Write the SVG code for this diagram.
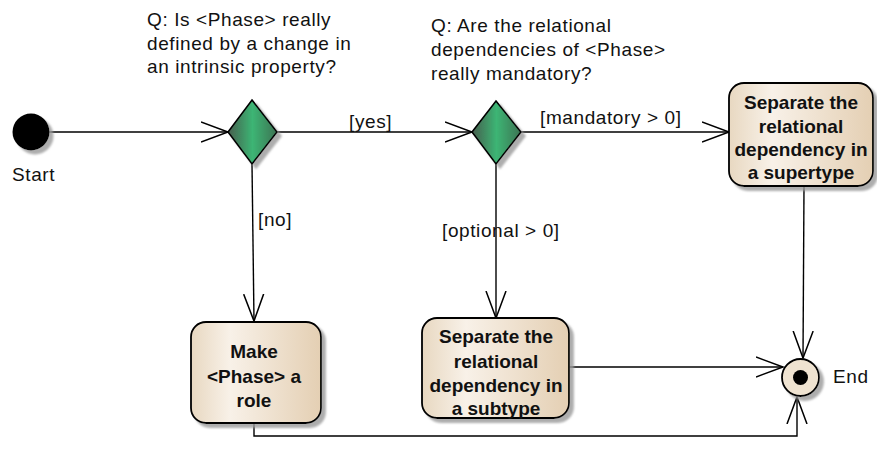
<svg xmlns="http://www.w3.org/2000/svg" width="877" height="465" viewBox="0 0 877 465">
  <style>
    .lbl { font-family: "Liberation Sans", Arial, sans-serif; font-size: 19px; letter-spacing: 0.6px; fill: #111; }
    .act { font-family: "Liberation Sans", Arial, sans-serif; font-size: 19px; font-weight: bold; fill: #111; text-anchor: middle; }
    .edge { fill: none; stroke: #000; stroke-width: 1.4; }
    .box { fill: url(#actFill); stroke: #000; stroke-width: 1.8; filter: url(#shadow); }
    .dec { fill: url(#decFill); stroke: #000; stroke-width: 1.6; filter: url(#shadow); }
  </style>
  <defs>
    <linearGradient id="actFill" x1="0" y1="0" x2="1" y2="0">
      <stop offset="0" stop-color="#e8d8c1"/>
      <stop offset="0.3" stop-color="#f8f1e8"/>
      <stop offset="1" stop-color="#e4cfb3"/>
    </linearGradient>
    <linearGradient id="decFill" x1="0" y1="0" x2="1" y2="0">
      <stop offset="0" stop-color="#475e4e"/>
      <stop offset="0.5" stop-color="#3cb574"/>
      <stop offset="1" stop-color="#3d7353"/>
    </linearGradient>
    <filter id="shadow" x="-20%" y="-20%" width="150%" height="150%">
      <feDropShadow dx="4" dy="4" stdDeviation="1.2" flood-color="#999" flood-opacity="0.8"/>
    </filter>
    <marker id="open" markerUnits="userSpaceOnUse" markerWidth="30" markerHeight="24" refX="27" refY="11" orient="auto">
      <path d="M0,1 L27,11 L0,21" fill="none" stroke="#000" stroke-width="1.5"/>
    </marker>
  </defs>

  <!-- question notes -->
  <g id="question1">
    <text class="lbl" x="147" y="26">Q: Is &lt;Phase&gt; really</text>
    <text class="lbl" x="147" y="50">defined by a change in</text>
    <text class="lbl" x="147" y="73">an intrinsic property?</text>
  </g>
  <g id="question2">
    <text class="lbl" x="431" y="32">Q: Are the relational</text>
    <text class="lbl" x="431" y="56">dependencies of &lt;Phase&gt;</text>
    <text class="lbl" x="431" y="80">really mandatory?</text>
  </g>

  <!-- connectors -->
  <g id="connectors">
    <path class="edge" d="M49,132 L228,132" marker-end="url(#open)"/>
    <path class="edge" d="M277,132 L472,132" marker-end="url(#open)"/>
    <path class="edge" d="M521,132 L729,132" marker-end="url(#open)"/>
    <path class="edge" d="M252,164 L254,321" marker-end="url(#open)"/>
    <path class="edge" d="M496,164 L496,318" marker-end="url(#open)"/>
    <path class="edge" d="M804,186 L803,358" marker-end="url(#open)"/>
    <path class="edge" d="M569,367 L783,367" marker-end="url(#open)"/>
    <path class="edge" d="M254,423 L254,436 L797,436 L797,397" marker-end="url(#open)"/>
    <text class="lbl" x="349" y="128">[yes]</text>
    <text class="lbl" x="540" y="124">[mandatory &gt; 0]</text>
    <text class="lbl" x="258" y="226">[no]</text>
    <text class="lbl" x="442" y="237">[optional &gt; 0]</text>
  </g>

  <g id="start">
    <circle cx="31" cy="132" r="18.5" fill="#000" filter="url(#shadow)"/>
    <text class="lbl" x="12" y="181">Start</text>
  </g>

  <g id="decision1">
    <polygon class="dec" points="252,100 277,132 252,164 228,132"/>
  </g>
  <g id="decision2">
    <polygon class="dec" points="496,101 521,132 496,164 472,132"/>
  </g>

  <g id="supertype">
    <rect class="box" x="729" y="83" width="144" height="103" rx="15"/>
    <text class="act" x="801" y="109">Separate the</text>
    <text class="act" x="801" y="133">relational</text>
    <text class="act" x="801" y="156">dependency in</text>
    <text class="act" x="801" y="179">a supertype</text>
  </g>

  <g id="subtype">
    <rect class="box" x="422" y="318" width="147" height="100" rx="15"/>
    <text class="act" x="496" y="343">Separate the</text>
    <text class="act" x="496" y="368">relational</text>
    <text class="act" x="496" y="392">dependency in</text>
    <text class="act" x="496" y="415">a subtype</text>
  </g>

  <g id="makeRole">
    <rect class="box" x="191" y="322" width="130" height="101" rx="15"/>
    <text class="act" x="254" y="358">Make</text>
    <text class="act" x="254" y="383">&lt;Phase&gt; a</text>
    <text class="act" x="254" y="407">role</text>
  </g>

  <g id="end">
    <circle cx="800.5" cy="377.5" r="18.5" fill="#efe3d1" stroke="#000" stroke-width="1.8" filter="url(#shadow)"/>
    <circle cx="800.5" cy="377.5" r="7.5" fill="#000"/>
    <text class="lbl" x="833" y="383">End</text>
  </g>
</svg>
